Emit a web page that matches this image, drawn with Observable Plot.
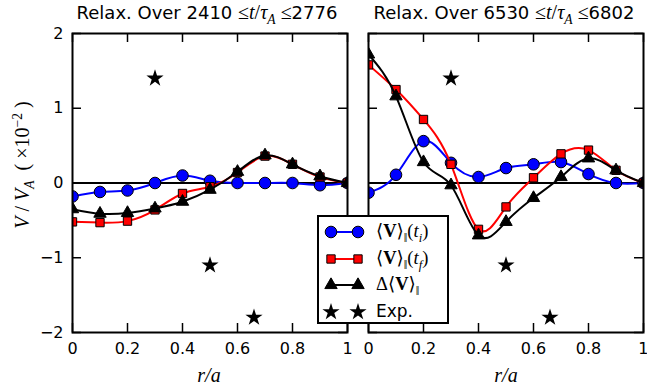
<!DOCTYPE html>
<html><head><meta charset="utf-8">
<script src="https://cdn.jsdelivr.net/npm/d3@7"></script>
<script src="https://cdn.jsdelivr.net/npm/@observablehq/plot@0.6"></script>
<style>
body{margin:0;background:#fff;}
#c{position:relative;width:647px;height:388px;overflow:hidden;font-family:"DejaVu Sans",sans-serif;color:#000;}
#c svg{position:absolute;top:0;overflow:visible;}
.abs{position:absolute;white-space:nowrap;}
.title{font-size:18px;text-align:center;width:400px;top:1px;line-height:22px;}
.title .m{font-size:20px;}
.m{font-family:"Liberation Serif","DejaVu Serif",serif;}
.xl{font-family:"Liberation Serif","DejaVu Serif",serif;font-style:italic;font-size:20px;width:100px;text-align:center;top:364px;}
#yl{font-family:"Liberation Serif","DejaVu Serif",serif;font-size:20px;left:24px;top:165px;transform:translate(-50%,-50%) rotate(-90deg);}
#leg{position:absolute;left:317px;top:215px;width:132px;height:109px;box-sizing:border-box;border:2px solid #000;background:#fff;}
#leg .row{position:absolute;left:0;height:26px;width:128px;}
#leg svg{position:absolute;left:0;top:0;}
#leg .lt{position:absolute;left:57px;top:1px;font-size:18.5px;line-height:22px;}
#leg .lt.s{font-size:17px;}
sub,sup{font-size:68%;}
.par{font-weight:normal;font-style:normal;}
</style></head><body><div id="c"></div>
<script>
// ---- data ----
const r = [0, 0.1, 0.2, 0.3, 0.4, 0.5, 0.6, 0.7, 0.8, 0.9, 1.0];
const blueLeft  = [-0.18, -0.12, -0.10, 0.00, 0.10, 0.03, 0.00, 0.00, 0.00, -0.03, 0.00];
const redLeft   = [-0.52, -0.53, -0.51, -0.36, -0.14, -0.05, 0.14, 0.36, 0.25, 0.08, 0.00];
const blackLeft = [-0.35, -0.41, -0.40, -0.34, -0.25, -0.09, 0.15, 0.37, 0.25, 0.09, 0.00];
const blueRight  = [-0.13, 0.11, 0.56, 0.27, 0.08, 0.20, 0.25, 0.28, 0.12, 0.00, 0.00];
const redRight   = [1.58, 1.25, 0.85, 0.25, -0.62, -0.32, 0.07, 0.39, 0.44, 0.17, 0.00];
const blackRight = [1.72, 1.16, 0.28, -0.03, -0.70, -0.52, -0.20, 0.08, 0.33, 0.17, 0.00];
const expR = [0.3, 0.5, 0.66];
const expV = [1.4, -1.1, -1.8];
const xTicks = [0, 0.2, 0.4, 0.6, 0.8, 1];
const yTicks = [-2, -1, 0, 1, 2];
const xDomain = [0, 1];
const yDomain = [-2, 2];
const titles = [["2410", "2776"], ["6530", "6802"]];

const colors = {blue: "#0000ff", red: "#ff0000", black: "#000000"};
const sizes = {circle: 5.8, square: 4.7, triangle: 4.6, star: 5.4};

function panel({blue, red, black, width, marginLeft, marginRight, showY}) {
  const H = 388, mt = 33, mb = 56;
  const fh = H - mt - mb, fw = width - marginLeft - marginRight;
  const tickPx = 9;
  const dy = (yDomain[1] - yDomain[0]) * tickPx / fh;
  const dx = (xDomain[1] - xDomain[0]) * tickPx / fw;
  const rows = ys => r.map((x, i) => ({x, y: ys[i]}));
  const stars = expR.map((x, i) => ({x, y: expV[i]}));
  return Plot.plot({
    width, height: H, marginLeft, marginRight, marginTop: mt, marginBottom: mb,
    style: {fontFamily: "DejaVu Sans", fontSize: "16px", color: "black", background: "transparent", overflow: "visible"},
    x: {domain: xDomain, ticks: xTicks, tickSize: 0, tickPadding: 10, tickFormat: d => String(d), label: null},
    y: {domain: yDomain, axis: showY ? "left" : null, ticks: yTicks, tickSize: 0, tickPadding: 9, label: null,
        tickFormat: d => d < 0 ? "\u2212" + (-d) : String(d)},
    marks: [
      Plot.ruleY([0], {stroke: "black", strokeWidth: 2}),
      Plot.ruleX(xTicks, {x: d => d, y1: yDomain[0], y2: yDomain[0] + dy, stroke: "black", strokeWidth: 1.5}),
      Plot.ruleX(xTicks, {x: d => d, y1: yDomain[1], y2: yDomain[1] - dy, stroke: "black", strokeWidth: 1.5}),
      Plot.ruleY(yTicks, {y: d => d, x1: xDomain[0], x2: xDomain[0] + dx, stroke: "black", strokeWidth: 1.5}),
      Plot.ruleY(yTicks, {y: d => d, x1: xDomain[1], x2: xDomain[1] - dx, stroke: "black", strokeWidth: 1.5}),
      Plot.line(rows(blue), {x: "x", y: "y", curve: "natural", stroke: colors.blue, strokeWidth: 2, clip: true}),
      Plot.dot(rows(blue), {x: "x", y: "y", r: sizes.circle, fill: colors.blue, stroke: "black", strokeWidth: 1, clip: true}),
      Plot.line(rows(red), {x: "x", y: "y", curve: "natural", stroke: colors.red, strokeWidth: 2, clip: true}),
      Plot.dot(rows(red), {x: "x", y: "y", r: sizes.square, symbol: "square", fill: colors.red, stroke: "black", strokeWidth: 1, clip: true}),
      Plot.line(rows(black), {x: "x", y: "y", curve: "natural", stroke: colors.black, strokeWidth: 2, clip: true}),
      Plot.dot(rows(black), {x: "x", y: "y", r: sizes.triangle, symbol: "triangle", fill: colors.black, stroke: "black", strokeWidth: 1, clip: true}),
      Plot.dot(stars, {x: "x", y: "y", r: sizes.star, symbol: "star", fill: "black", stroke: "none"}),
      Plot.frame({stroke: "black", strokeWidth: 2})
    ]
  });
}

const c = document.getElementById("c");
const left = panel({blue: blueLeft, red: redLeft, black: blackLeft, width: 360, marginLeft: 72, marginRight: 13, showY: true});
left.style.left = "0px";
const right = panel({blue: blueRight, red: redRight, black: blackRight, width: 292, marginLeft: 13, marginRight: 4, showY: false});
right.style.left = "355px";
c.appendChild(left);
c.appendChild(right);
// keep the right panel's last tick label inside the picture
right.querySelectorAll("text").forEach(t => {
  if (t.textContent === "1") { t.setAttribute("text-anchor", "end"); t.setAttribute("dx", "0.3em"); }
});

// titles and x labels
const centers = [207, 504];
titles.forEach((t, i) => {
  const d = document.createElement("div");
  d.className = "abs title";
  d.style.left = (centers[i] - 200) + "px";
  d.innerHTML = `Relax. Over ${t[0]} <span class="m">\u2264<i>t</i>/<i>\u03c4</i><sub><i>A</i></sub> \u2264</span>${t[1]}`;
  c.appendChild(d);
  const xl = document.createElement("div");
  xl.className = "abs xl";
  xl.style.left = (centers[i] + 2 - 50) + "px";
  xl.textContent = "r/a";
  c.appendChild(xl);
});

const yl = document.createElement("div");
yl.id = "yl"; yl.className = "abs";
yl.innerHTML = `<i>V</i> / <i>V</i><sub><i>A</i></sub> &nbsp;( \u00d710<sup>\u22122</sup> )`;
c.appendChild(yl);

// legend
const leg = document.createElement("div");
leg.id = "leg";
const V = `<span class="m">\u27e8<b>V</b>\u27e9<sub class="par">\u2016</sub></span>`;
const items = [
  {html: `${V}<span class="m">(<i>t<sub>i</sub></i>)</span>`, color: colors.blue, sym: "circle"},
  {html: `${V}<span class="m">(<i>t<sub>f</sub></i>)</span>`, color: colors.red, sym: "square"},
  {html: `<span class="m">\u0394</span>${V}`, color: colors.black, sym: "triangle"},
  {html: `Exp.`, color: "black", sym: "star", noLine: true, cls: "s"}
];
const symMap = {circle: d3.symbolCircle, square: d3.symbolSquare, triangle: d3.symbolTriangle, star: d3.symbolStar};
items.forEach((it, i) => {
  const row = document.createElement("div");
  row.className = "row";
  row.style.top = (2 + i * 26.5) + "px";
  const rr = sizes[it.sym];
  const path = d3.symbol(symMap[it.sym], Math.PI * rr * rr)();
  const stroke = it.sym === "star" ? "none" : "black";
  row.innerHTML = `<svg width="56" height="26">
    ${it.noLine ? "" : `<line x1="12" x2="39" y1="13" y2="13" stroke="${it.color}" stroke-width="2"/>`}
    <path d="${path}" transform="translate(12,13)" fill="${it.color}" stroke="${stroke}"/>
    <path d="${path}" transform="translate(39,13)" fill="${it.color}" stroke="${stroke}"/>
  </svg><div class="lt ${it.cls || ""}">${it.html}</div>`;
  leg.appendChild(row);
});
c.appendChild(leg);
</script>
</body></html>
